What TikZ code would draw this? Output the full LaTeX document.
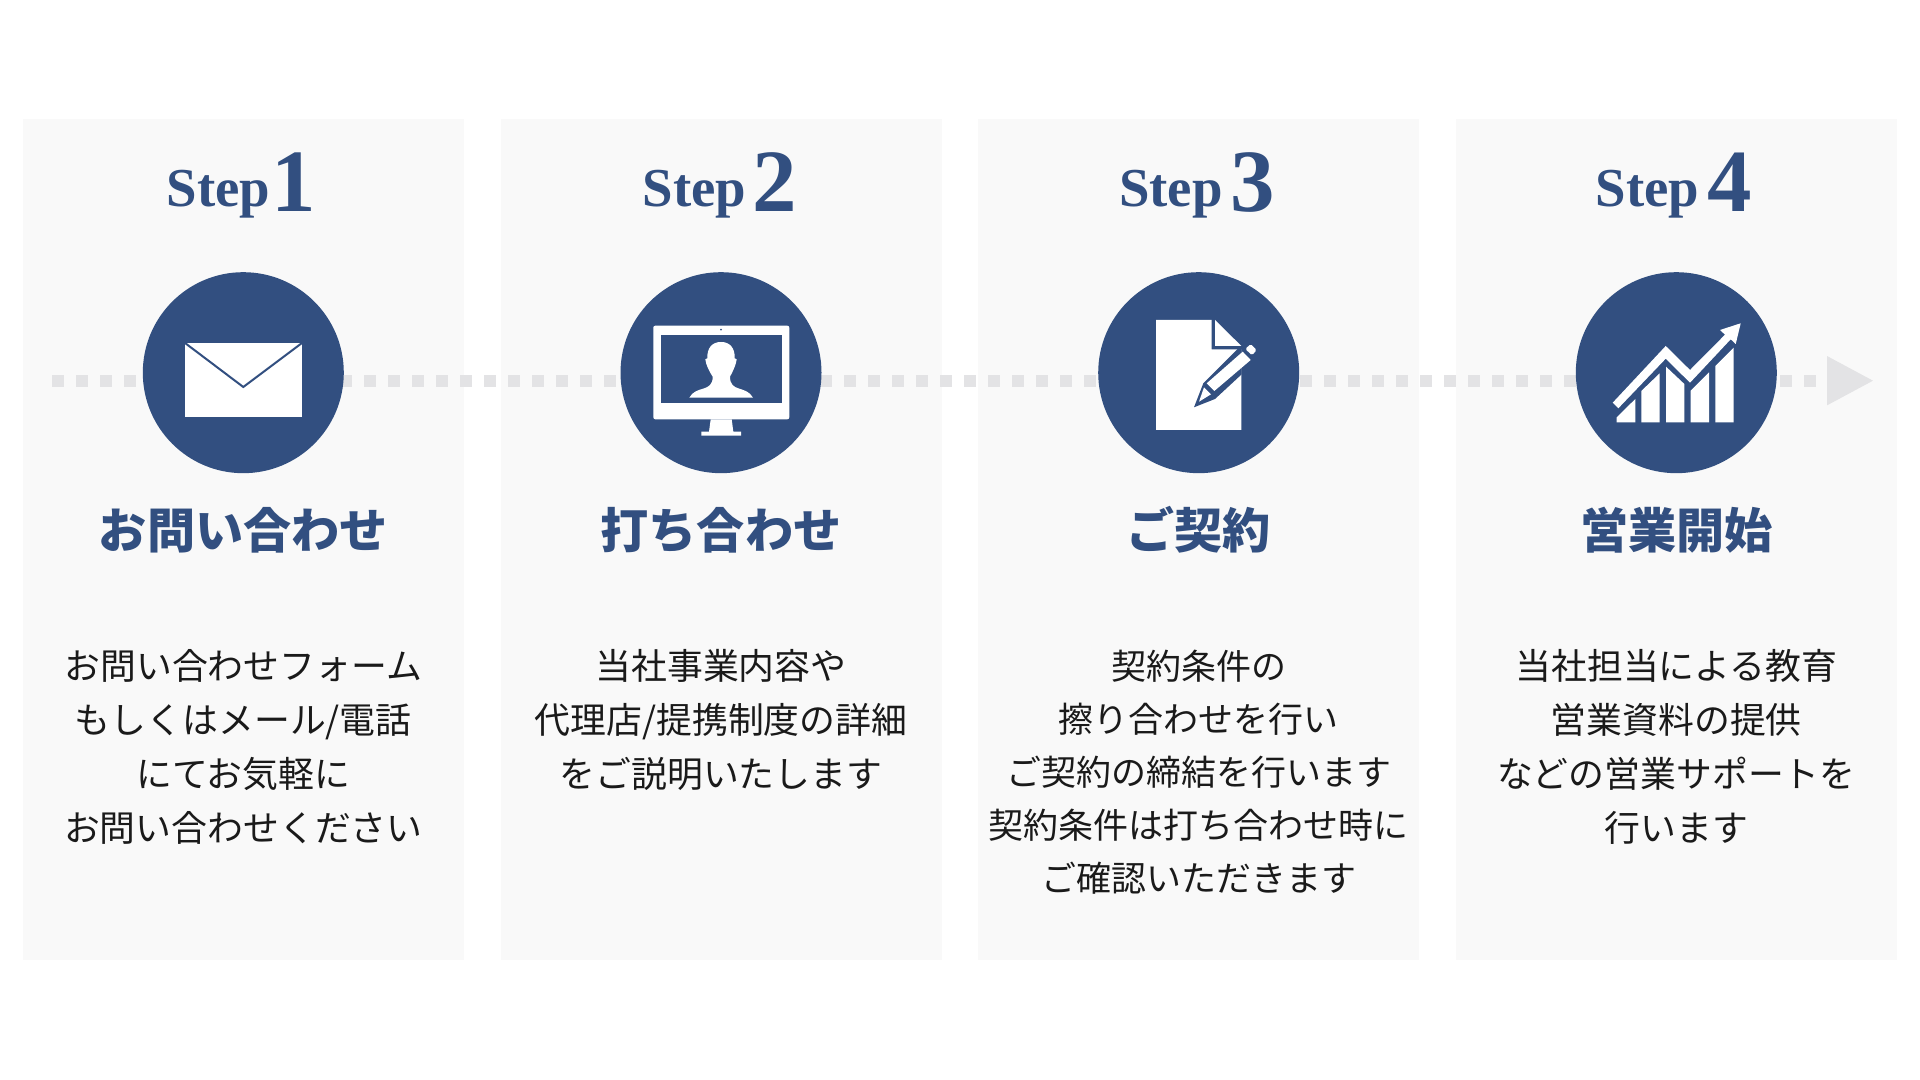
\documentclass[tikz,border=0pt]{standalone}
\usepackage{xcolor}
\usepackage{fontspec}
\usepackage{tikz}
\usetikzlibrary{arrows.meta}
\setmainfont{Liberation Serif}
\newfontfamily\jpfont{Noto Sans CJK JP}
\definecolor{panelcolor}{HTML}{f9f9f9}
\definecolor{stepcolor}{HTML}{324f80}
\definecolor{dotcolor}{HTML}{e3e3e5}
\definecolor{bodycolor}{HTML}{1a1a1a}
\tikzset{
panelbox/.style={rectangle, fill=panelcolor, minimum width=4.41cm, minimum height=8.41cm, inner sep=0},
stepword/.style={anchor=base west, inner sep=0, text=stepcolor, font=\fontsize{15.6pt}{18pt}\selectfont\bfseries},
stepdigit/.style={anchor=base west, inner sep=0, text=stepcolor, font=\fontsize{25.3pt}{30pt}\selectfont\bfseries},
iconcircle/.style={circle, fill=stepcolor, minimum size=2.01cm, inner sep=0},
headtext/.style={inner sep=0, text=stepcolor, font=\jpfont\fontsize{13.7pt}{16pt}\selectfont\bfseries},
bodytext/.style={inner sep=0, align=center, text=bodycolor, font=\jpfont\fontsize{10.2pt}{15.37pt}\selectfont},
flowline/.style={draw=dotcolor, line width=0.12cm, dash pattern=on 0.12cm off 0.12cm, -{Triangle[length=0.47cm,width=0.456cm]}}
}

\begin{document}
\begin{tikzpicture}%
\useasboundingbox (0,0) rectangle (19.2,10.8);%
\fill[white] (0,0) rectangle (19.2,10.8);%
\node[panelbox] (panel1) at (2.435,5.405) {};%
\node[panelbox] (panel2) at (7.212,5.405) {};%
\node[panelbox] (panel3) at (11.98,5.405) {};%
\node[panelbox] (panel4) at (16.765,5.405) {};%
\coordinate (flowstart) at (0.523,6.993);%
\coordinate (flowend) at (18.74,6.993);%
\draw[flowline] (flowstart) -- (flowend);%
\node[iconcircle] (circle1) at (2.433,7.073) {};%
\node[iconcircle] (circle2) at (7.21,7.073) {};%
\node[iconcircle] (circle3) at (11.987,7.073) {};%
\node[iconcircle] (circle4) at (16.763,7.073) {};%
\node[stepword] (word1) at (1.66,8.733) {Step};%
\node[stepdigit] (digit1) at (2.71,8.683) {1};%
\node[stepword] (word2) at (6.42,8.733) {Step};%
\node[stepdigit] (digit2) at (7.52,8.683) {2};%
\node[stepword] (word3) at (11.185,8.733) {Step};%
\node[stepdigit] (digit3) at (12.3,8.683) {3};%
\node[stepword] (word4) at (15.95,8.733) {Step};%
\node[stepdigit] (digit4) at (17.07,8.683) {4};%
\fill[white] (1.85,6.633) rectangle (3.02,7.37);%
\draw[stepcolor, line width=0.02cm] (1.85,7.37) -- (2.433,6.93) -- (3.02,7.37);%
\fill[white, rounded corners=0.02cm] (6.533,6.607) rectangle (7.893,7.543);%
\fill[stepcolor] (6.607,6.767) rectangle (7.817,7.453);%
\fill[stepcolor] (7.21,7.503) circle (0.01);%
\fill[white] (7.107,6.607) -- (7.317,6.607) -- (7.333,6.483) -- (7.41,6.483) -- (7.41,6.443) -- (7.013,6.443) -- (7.013,6.483) -- (7.09,6.483) -- cycle;%
\fill[white] (6.893,6.823) .. controls (6.96,6.95) and (7.127,6.87) .. (7.127,7.033) .. controls (7.09,7.09) and (7.06,7.15) .. (7.053,7.207) -- (7.073,7.217) .. controls (7.07,7.32) and (7.12,7.38) .. (7.21,7.38) .. controls (7.3,7.38) and (7.35,7.32) .. (7.347,7.217) -- (7.367,7.207) .. controls (7.36,7.15) and (7.33,7.09) .. (7.3,7.033) .. controls (7.3,6.87) and (7.46,6.95) .. (7.53,6.823) -- cycle;%
\fill[white] (11.56,7.6) -- (12.117,7.6) -- (12.117,7.307) -- (12.413,7.307) -- (12.413,6.5) -- (11.56,6.5) -- cycle;%
\fill[white] (12.15,7.6) -- (12.413,7.34) -- (12.15,7.34) -- cycle;%
\fill[stepcolor] (11.94,6.727) -- (12.033,6.967) -- (12.4,7.333) -- (12.417,7.34) -- (12.417,7.057) -- (12.15,6.81) -- cycle;%
\fill[white] (12.427,7.283) -- (12.507,7.2) -- (12.143,6.89) -- (12.067,6.967) -- cycle;%
\fill[white] (12.04,6.927) -- (12.11,6.857) -- (11.99,6.783) -- cycle;%
\fill[white, rounded corners=0.015cm] (12.507,7.36) -- (12.567,7.3) -- (12.52,7.247) -- (12.453,7.31) -- cycle;%
\fill[white] (16.167,6.577) -- (16.167,6.627) -- (16.353,6.81) -- (16.353,6.577) -- cycle;%
\fill[white] (16.413,6.577) -- (16.413,6.89) -- (16.597,7.067) -- (16.597,6.577) -- cycle;%
\fill[white] (16.66,6.577) -- (16.66,7.133) -- (16.843,6.96) -- (16.843,6.577) -- cycle;%
\fill[white] (16.907,6.577) -- (16.907,6.893) -- (17.09,7.077) -- (17.09,6.577) -- cycle;%
\fill[white] (17.153,6.577) -- (17.153,7.14) -- (17.337,7.323) -- (17.337,6.577) -- cycle;%
\fill[white] (16.127,6.773) -- (16.657,7.34) -- (16.9,7.1) -- (17.25,7.453) -- (17.2,7.5) -- (17.407,7.567) -- (17.357,7.36) -- (17.307,7.407) -- (16.9,6.973) -- (16.657,7.213) -- (16.183,6.717) -- cycle;%
\node[headtext] (head1) at (2.433,5.5) {お問い合わせ};%
\node[headtext] (head2) at (7.21,5.5) {打ち合わせ};%
\node[headtext] (head3) at (11.987,5.5) {ご契約};%
\node[headtext] (head4) at (16.763,5.5) {営業開始};%
\node[bodytext] (body1) at (2.433,3.33) {お問い合わせフォーム\\もしくはメール/電話\\にてお気軽に\\お問い合わせください};%
\node[bodytext] (body2) at (7.21,3.6) {当社事業内容や\\代理店/提携制度の詳細\\をご説明いたします};%
\node[bodytext, font=\jpfont\fontsize{9.95pt}{15.08pt}\selectfont] (body3) at (11.987,3.08) {契約条件の\\擦り合わせを行い\\ご契約の締結を行います\\契約条件は打ち合わせ時に\\ご確認いただきます};%
\node[bodytext] (body4) at (16.763,3.33) {当社担当による教育\\営業資料の提供\\などの営業サポートを\\行います};%
\end{tikzpicture}
\end{document}
